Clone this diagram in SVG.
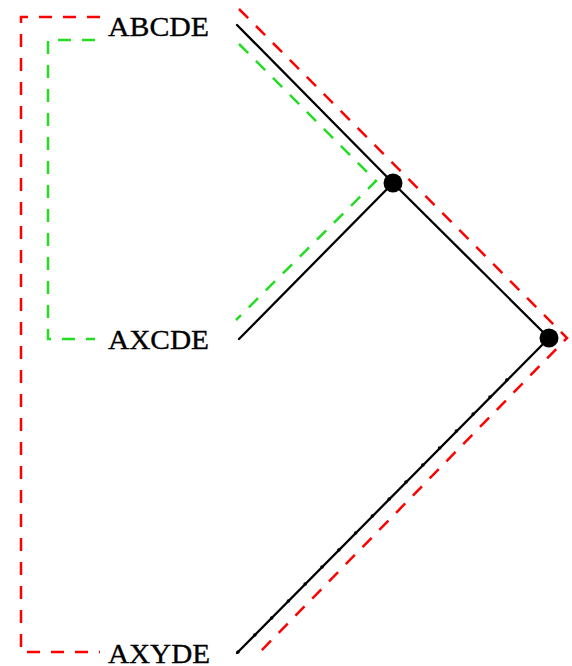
<svg xmlns="http://www.w3.org/2000/svg" width="572" height="666" viewBox="0 0 572 666">
<style>
.lbl{font-family:"Liberation Serif","Times New Roman",serif;font-size:28px;fill:#000;stroke:#000;stroke-width:0.35}
.edge{stroke:#000;stroke-width:2.3;fill:none;stroke-linecap:round}
.red{stroke:#ff0000;stroke-width:2.5;fill:none;stroke-dasharray:13 11}
.green{stroke:#22dd22;stroke-width:2.5;fill:none;stroke-dasharray:13 11}
.tick{fill:#000}
</style>
<rect width="572" height="666" fill="#fff"/>
<g id="clades">
<path class="red" d="M100,17 H21 V652 H100"/>
<path class="red" d="M239,9 L567,338 L258,654"/>
<path class="green" d="M95,40 H48 V339 H95"/>
<path class="green" d="M239,44 L376,181 L236,320"/>
</g>
<g id="connectors">
<line class="edge" x1="237" y1="25" x2="393" y2="183"/>
<line class="edge" x1="239" y1="339" x2="393" y2="183"/>
<line class="edge" x1="393" y1="183" x2="549" y2="338"/>
<line class="edge" x1="237" y1="653" x2="549" y2="338"/>
<g class="tick">
<circle cx="238" cy="652" r="1.8"/>
<circle cx="254.8" cy="635" r="1.8"/>
<circle cx="271.6" cy="618" r="1.8"/>
<circle cx="288.4" cy="601" r="1.8"/>
<circle cx="305.2" cy="584" r="1.8"/>
<circle cx="322" cy="567" r="1.8"/>
<circle cx="338.8" cy="550" r="1.8"/>
<circle cx="355.6" cy="533" r="1.8"/>
<circle cx="372.4" cy="516" r="1.8"/>
<circle cx="389.2" cy="499" r="1.8"/>
<circle cx="406" cy="482" r="1.8"/>
<circle cx="422.8" cy="465" r="1.8"/>
<circle cx="439.6" cy="448" r="1.8"/>
<circle cx="456.4" cy="431" r="1.8"/>
<circle cx="473.2" cy="414" r="1.8"/>
<circle cx="490" cy="397" r="1.8"/>
<circle cx="506.8" cy="380" r="1.8"/>
</g>
</g>
<g id="ABCDE"><text class="lbl" x="108" y="36" textLength="101" lengthAdjust="spacingAndGlyphs">ABCDE</text></g>
<g id="AXCDE"><text class="lbl" x="108" y="349" textLength="101" lengthAdjust="spacingAndGlyphs">AXCDE</text></g>
<g id="AXYDE"><text class="lbl" x="108" y="663" textLength="102" lengthAdjust="spacingAndGlyphs">AXYDE</text></g>
<g id="node1"><circle cx="393" cy="183" r="9.5" fill="#000"/></g>
<g id="node2"><circle cx="549" cy="338" r="9.5" fill="#000"/></g>
</svg>
